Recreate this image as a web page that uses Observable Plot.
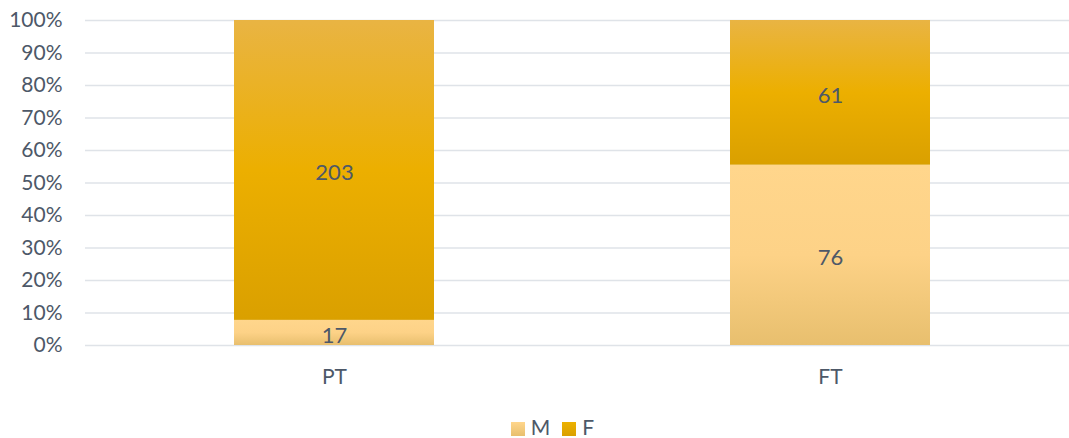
<!DOCTYPE html>
<html>
<head>
<meta charset="utf-8">
<script src="https://cdn.jsdelivr.net/npm/d3@7"></script>
<script src="https://cdn.jsdelivr.net/npm/@observablehq/plot@0.6"></script>
<style>
  body { margin: 0; background: #fff; font-family: Lato, "Open Sans", sans-serif; }
  #legend { display: flex; justify-content: center; align-items: center; gap: 0; color: #4d5868; font-size: 21px; height: 30px; margin-left: 36px; margin-top: 6px; }
  #legend .item { display: flex; align-items: center; margin: 0 6px; }
  #legend .sw { width: 14px; height: 14px; margin-right: 6px; margin-top: 6px; }
</style>
</head>
<body>
<div id="chart"></div>
<div id="legend"></div>
<script>
const categories = ["PT", "FT"];
const seriesNames = ["M", "F"];
const mValues = [17, 76];
const fValues = [203, 61];
const yTicks = [0, 0.1, 0.2, 0.3, 0.4, 0.5, 0.6, 0.7, 0.8, 0.9, 1.0];

const rows = [];
categories.forEach((c, i) => {
  rows.push({cat: c, series: "M", value: mValues[i]});
  rows.push({cat: c, series: "F", value: fValues[i]});
});

const textColor = "#4d5868";

const chart = Plot.plot({
  width: 1069,
  height: 405,
  marginLeft: 85,
  marginRight: 0,
  marginTop: 20,
  marginBottom: 60,
  style: {fontFamily: "Lato, 'Open Sans', sans-serif", fontSize: "21px", color: textColor, background: "#fff"},
  x: {domain: categories, range: [85, 1078], paddingInner: 0.5976, paddingOuter: 0.298, label: null, tickSize: 0, tickPadding: 24},
  y: {domain: [0, 1], ticks: yTicks, tickFormat: d3.format(".0%"), label: null, tickSize: 0, tickPadding: 23},
  color: {domain: seriesNames, range: ["url(#gM)", "url(#gF)"]},
  marks: [
    Plot.ruleY(yTicks, {stroke: "#dfe3e8", strokeWidth: 1.5}),
    Plot.barY(rows, Plot.stackY({x: "cat", y: "value", z: "series", fill: "series", offset: "normalize", order: seriesNames})),
    Plot.text(rows, Plot.stackY({x: "cat", y: "value", z: "series", text: "value", offset: "normalize", order: seriesNames, fill: textColor, fontSize: 22, dy: 3}))
  ]
});

const defs = d3.select(chart).insert("defs", ":first-child");
function grad(id, stops) {
  const g = defs.append("linearGradient").attr("id", id).attr("x1", 0).attr("y1", 0).attr("x2", 0).attr("y2", 1);
  stops.forEach(([o, c]) => g.append("stop").attr("offset", o).attr("stop-color", c));
}
grad("gM", [[0, "#ffd68c"], [0.5, "#fdd287"], [1, "#e8bf6e"]]);
grad("gF", [[0, "#e9b443"], [0.5, "#ecaf00"], [1, "#daa000"]]);

document.getElementById("chart").appendChild(chart);

const legend = document.getElementById("legend");
const legendFills = ["linear-gradient(#ffd68c, #e8bf6e)", "linear-gradient(#ecb100, #daa000)"];
seriesNames.forEach((s, i) => {
  const item = document.createElement("div");
  item.className = "item";
  const sw = document.createElement("div");
  sw.className = "sw";
  sw.style.background = legendFills[i];
  const t = document.createElement("span");
  t.textContent = s;
  item.appendChild(sw); item.appendChild(t);
  legend.appendChild(item);
});
</script>
</body>
</html>
